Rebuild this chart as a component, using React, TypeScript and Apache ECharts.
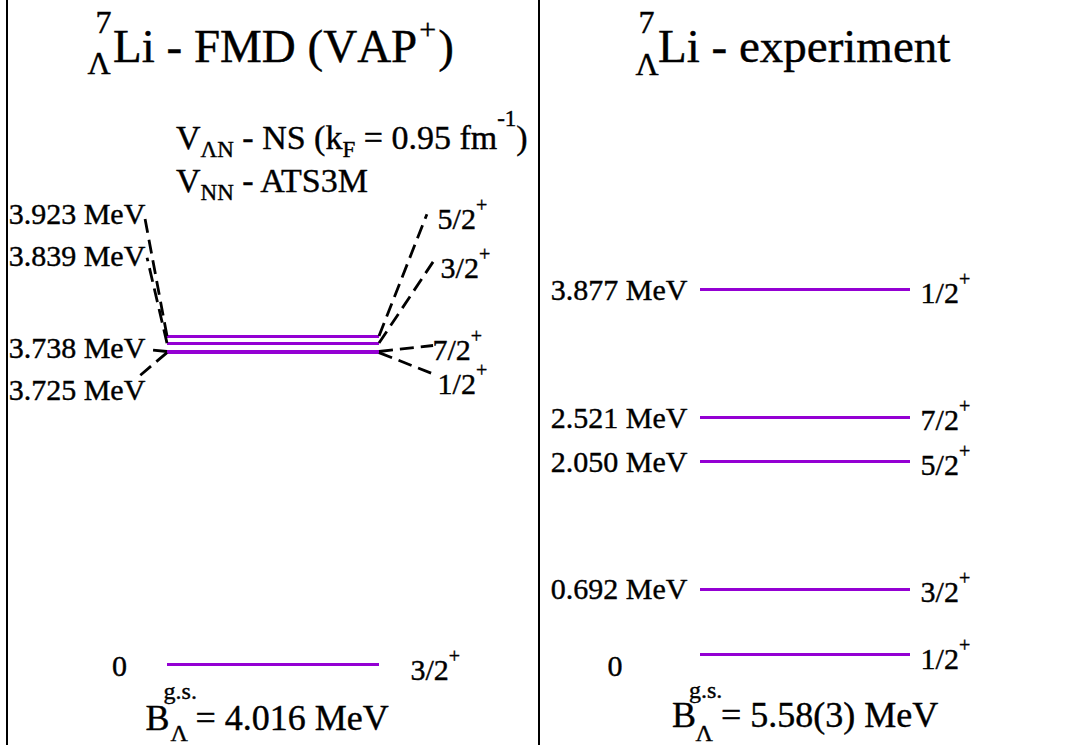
import React, { useEffect, useRef } from "react";
import * as echarts from "echarts";

// ---------------- data ----------------
const fmdEnergies = [0, 3.923, 3.839, 3.738, 3.725];
const fmdEnergyLabels = ["0", "3.923 MeV", "3.839 MeV", "3.738 MeV", "3.725 MeV"];
const fmdSpins = ["3/2", "5/2", "3/2", "7/2", "1/2"];
const expEnergies = [0, 0.692, 2.05, 2.521, 3.877];
const expEnergyLabels = ["0", "0.692 MeV", "2.050 MeV", "2.521 MeV", "3.877 MeV"];
const expSpins = ["1/2", "3/2", "5/2", "7/2", "1/2"];
const fmdBinding = "4.016 MeV";
const expBinding = "5.58(3) MeV";

// ---------------- layout (label placement, in panel units) ----------------
const fmdLeftLabelX = [-0.186, -0.1, -0.1, -0.1, -0.1];
const fmdLeftLabelY = [-0.02, 5.39, 4.89, 3.79, 3.28];
const fmdRightLabelX = [1.146, 1.274, 1.288, 1.25, 1.274];
const fmdRightLabelY = [-0.07, 5.33, 4.74, 3.76, 3.36];
const fmdLeftLinkEnd: (number[] | null)[] = [null, [-0.104, 5.33], [-0.094, 4.86], [-0.09, 3.76], [-0.137, 3.43]];
const fmdRightLinkEnd: (number[] | null)[] = [null, [1.226, 5.38], [1.255, 4.81], [1.255, 3.81], [1.255, 3.47]];
const expLeftLabelY = [-0.122, 0.692, 2.05, 2.521, 3.877];
const expRightLabelY = [-0.043, 0.67, 2.02, 2.49, 3.85];

const SERIF = '"Liberation Serif", "Times New Roman", Times, serif';
const PURPLE = "#9400d3";
const STROKE = { textBorderColor: "#000", textBorderWidth: 0.4 };

const labelRich = {
  m: { fontFamily: SERIF, fontSize: 30, color: "#000", lineHeight: 34, ...STROKE },
  p: { fontFamily: SERIF, fontSize: 20, color: "#000", lineHeight: 20, padding: [0, 0, 27, 0], ...STROKE },
};

function levelLines(energies: number[], gi: number) {
  return {
    type: "lines",
    coordinateSystem: "cartesian2d",
    xAxisIndex: gi,
    yAxisIndex: gi,
    clip: false,
    silent: true,
    lineStyle: { color: PURPLE, width: 3, opacity: 1 },
    data: energies.map((e) => ({ coords: [[0, e], [1, e]] })),
  };
}

function labelSeries(points: number[][], texts: string[], gi: number, side: "left" | "right", sup: boolean) {
  return {
    type: "scatter",
    xAxisIndex: gi,
    yAxisIndex: gi,
    clip: false,
    silent: true,
    symbolSize: 1,
    itemStyle: { color: "rgba(0,0,0,0)" },
    emphasis: { disabled: true },
    data: points.map((p, i) => ({ value: p, name: texts[i] })),
    label: {
      show: true,
      position: side,
      distance: 0,
      color: "#000",
      opacity: 1,
      formatter: (p: any) => (sup ? `{m|${p.name}}{p|+}` : `{m|${p.name}}`),
      rich: labelRich,
    },
  };
}

function txt(x: number, y: number, text: string, size: number, extra: any = {}) {
  return {
    type: "text",
    x,
    y,
    silent: true,
    style: {
      text,
      fontFamily: SERIF,
      fontSize: size,
      fill: "#000",
      stroke: "#000",
      lineWidth: 0.4,
      align: "left",
      verticalAlign: "middle",
      ...extra,
    },
  };
}

export default function App() {
  const ref = useRef<HTMLDivElement>(null);
  useEffect(() => {
    if (!ref.current) return;
    const chart = echarts.init(ref.current, undefined, { renderer: "svg" });

    const connectors: any[] = [];
    fmdEnergies.forEach((e, i) => {
      const l = fmdLeftLinkEnd[i];
      const r = fmdRightLinkEnd[i];
      if (l) connectors.push({ coords: [[0, e], l] });
      if (r) connectors.push({ coords: [[1, e], r] });
    });

    const tok = { fontFamily: SERIF, fill: "#000", stroke: "#000", lineWidth: 0.4 };
    const richSub = {
      v: { ...tok, fontSize: 34, lineHeight: 36 },
      b: { ...tok, fontSize: 23, lineHeight: 20, padding: [25, 0, 0, 0] },
      t: { ...tok, fontSize: 23, lineHeight: 20, padding: [0, 0, 37, 0] },
    };
    const titleRich = {
      m: { ...tok, fontSize: 47, lineHeight: 50 },
      s: { ...tok, fontSize: 30, lineHeight: 30, padding: [0, 2, 36, 2] },
    };

    const option: any = {
      animation: false,
      backgroundColor: "#fff",
      grid: [
        { left: 167, width: 212, top: 664 - 7 * 83.6, height: 7 * 83.6 },
        { left: 700, width: 210, top: 654 - 6 * 94, height: 6 * 94 },
      ],
      xAxis: [
        { gridIndex: 0, type: "value", min: 0, max: 1, show: false },
        { gridIndex: 1, type: "value", min: 0, max: 1, show: false },
      ],
      yAxis: [
        { gridIndex: 0, type: "value", min: 0, max: 7, show: false },
        { gridIndex: 1, type: "value", min: 0, max: 6, show: false },
      ],
      series: [
        levelLines(fmdEnergies, 0),
        levelLines(expEnergies, 1),
        {
          type: "lines",
          coordinateSystem: "cartesian2d",
          xAxisIndex: 0,
          yAxisIndex: 0,
          clip: false,
          silent: true,
          lineStyle: { color: "#000", width: 2.8, type: [14, 7], opacity: 1 },
          data: connectors,
        },
        labelSeries(fmdEnergyLabels.map((_, i) => [fmdLeftLabelX[i], fmdLeftLabelY[i]]), fmdEnergyLabels, 0, "left", false),
        labelSeries(fmdSpins.map((_, i) => [fmdRightLabelX[i], fmdRightLabelY[i]]), fmdSpins, 0, "right", true),
        labelSeries(
          expEnergyLabels.map((_, i) => [i === 0 ? -0.367 : -0.057, expLeftLabelY[i]]),
          expEnergyLabels,
          1,
          "left",
          false
        ),
        labelSeries(expSpins.map((_, i) => [1.048, expRightLabelY[i]]), expSpins, 1, "right", true),
      ],
      graphic: [
        { type: "line", silent: true, shape: { x1: 7, y1: 0, x2: 7, y2: 745 }, style: { stroke: "#000", lineWidth: 2 } },
        { type: "line", silent: true, shape: { x1: 539, y1: 0, x2: 539, y2: 745 }, style: { stroke: "#000", lineWidth: 2 } },
        // left title
        txt(103.5, 21.5, "7", 32, { align: "center" }),
        txt(99, 62.5, "Λ", 32, { align: "center" }),
        txt(113, 46, "{m|Li - FMD (V}{m|A}{m|P}{s|+}{m|)}", 47, { rich: titleRich }),
        // right title
        txt(646.5, 22, "7", 32, { align: "center" }),
        txt(647, 63.5, "Λ", 32, { align: "center" }),
        txt(658, 46, "Li - experiment", 47),
        // interaction text
        txt(176, 137, "{v|V}{b|ΛN}{v| - NS (k}{b|F}{v| = 0.95 fm}{t|-1}{v|)}", 34, { rich: richSub }),
        txt(176, 180, "{v|V}{b|NN}{v| - ATS3M}", 34, { rich: richSub }),
        // binding energies
        txt(145.5, 717.8, "B", 36),
        txt(163.6, 691, "g.s.", 24),
        txt(170.5, 732.5, "Λ", 24),
        txt(195.5, 717.8, "= " + fmdBinding, 36),
        txt(672, 715, "B", 36),
        txt(689, 690, "g.s.", 24),
        txt(695.5, 732.5, "Λ", 24),
        txt(721, 715, "= " + expBinding, 36),
      ],
    };
    chart.setOption(option);
    return () => chart.dispose();
  }, []);
  return (
    <div
      ref={ref}
      style={{ position: "absolute", left: 0, top: 0, width: 1070, height: 745, background: "#fff" }}
    />
  );
}
